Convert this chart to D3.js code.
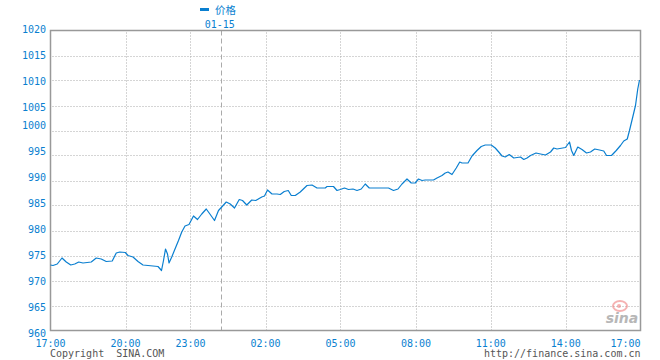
<!DOCTYPE html>
<html><head><meta charset="utf-8">
<script src="https://cdn.jsdelivr.net/npm/d3@7/dist/d3.min.js"></script>
<style>body{margin:0;background:#fff}svg{display:block}</style>
</head><body><svg id="c" width="660" height="360"></svg>
<script>
// ---- data ----
const seriesName = "价格";
const dayLabel = "01-15";
const dayBreak = 6.81; // session hours since 17:00 where date changes
const times = [0,0.10,0.27,0.46,0.63,0.81,0.97,1.13,1.30,1.63,1.83,2.03,2.23,2.47,2.63,2.77,2.99,3.10,3.30,3.50,3.70,3.90,4.30,4.44,4.52,4.60,4.68,4.74,4.85,4.98,5.12,5.25,5.38,5.54,5.72,5.88,6.05,6.23,6.39,6.56,6.72,6.85,7.03,7.19,7.36,7.55,7.68,7.85,8.05,8.21,8.45,8.56,8.68,8.86,9.06,9.19,9.35,9.51,9.63,9.79,9.99,10.26,10.46,10.66,10.99,11.06,11.32,11.46,11.59,11.76,11.92,12.10,12.26,12.43,12.59,12.75,13.52,13.72,13.90,14.06,14.26,14.43,14.59,14.72,14.86,14.99,15.32,15.46,15.66,15.79,15.90,16.06,16.23,16.37,16.46,16.70,16.86,17.06,17.23,17.39,17.63,17.79,17.93,18.06,18.19,18.35,18.53,18.80,18.93,19.06,19.20,19.42,19.60,19.80,20.00,20.13,20.26,20.60,20.76,20.84,20.93,21.09,21.26,21.44,21.60,21.77,21.96,22.13,22.24,22.44,22.63,22.80,22.93,23.07,23.16,23.29,23.40,23.49,23.56];
const prices = [973.1,973.0,973.3,974.5,973.7,973.1,973.3,973.7,973.5,973.7,974.5,974.3,973.8,973.9,975.5,975.7,975.6,975.0,974.7,973.8,973.1,973.0,972.8,972.0,974.0,976.3,975.3,973.5,974.7,976.3,978.0,979.7,980.9,981.2,982.9,982.2,983.3,984.3,983.2,982.0,984.0,984.7,985.7,985.3,984.5,986.2,986.0,985.1,986.1,986.0,986.7,986.9,988.1,987.3,987.3,987.2,987.8,988.0,987.0,987.0,987.7,989.0,989.1,988.5,988.5,988.8,988.8,988.0,988.2,988.5,988.2,988.3,988.0,988.3,989.3,988.5,988.5,988.0,988.3,989.3,990.3,989.5,989.5,990.3,990.0,990.1,990.1,990.5,991.0,991.5,991.7,991.2,992.5,993.7,993.5,993.5,994.9,996.0,996.8,997.1,997.1,996.5,995.7,994.9,994.7,995.2,994.5,994.7,994.2,994.5,995.0,995.5,995.3,995.1,995.7,996.5,996.3,996.6,997.7,996.0,995.0,996.7,996.2,995.5,995.7,996.3,996.1,995.9,995.0,995.0,996.0,997.0,997.9,998.3,1000.0,1002.7,1005.0,1008.3,1010.1];
const yTicks = [960,965,970,975,980,985,990,995,1000,1005,1010,1015,1020];
const xTickPos = [0,3,5.6,8.6,11.6,14.62,17.61,20.61,23.6];
const xTickLabels = ["17:00","20:00","23:00","02:00","05:00","08:00","11:00","14:00","17:00"];
const copyright = "Copyright  SINA.COM";
const siteUrl = "http://finance.sina.com.cn";

// ---- layout ----
const L = 50.5, R = 640.5, T = 30.5, B = 330.5;
const blue = "#0a7fd0", gridC = "#aaaaaa", axisC = "#999999";
const mono = "'DejaVu Sans Mono', 'Liberation Mono', monospace";

const svg = d3.select("#c");
const x = d3.scaleLinear().domain([0, 23.6]).range([L, R]);
const y = d3.scaleLinear().domain([960, 1020]).range([B, T]);
// label positions as drawn by the original (slightly offset from grid lines)
const yLabHi = d3.scaleLinear().domain([1020, 1005]).range([29.5, 107.5]);
const yLabLo = d3.scaleLinear().domain([1000, 960]).range([125.5, 333]);

// grid
const g = svg.append("g");
g.selectAll("line.h").data(yTicks.filter(v => v > 960 && v < 1020)).join("line")
  .attr("x1", L + 2).attr("x2", R).attr("y1", d => Math.round(y(d)) + 0.5).attr("y2", d => Math.round(y(d)) + 0.5)
  .attr("stroke", gridC).attr("stroke-dasharray", "1,2");
g.selectAll("line.v").data(xTickPos.slice(1, -1)).join("line")
  .attr("x1", d => Math.round(x(d)) + 0.5).attr("x2", d => Math.round(x(d)) + 0.5).attr("y1", T + 2).attr("y2", B)
  .attr("stroke", gridC).attr("stroke-dasharray", "1,2");
g.append("line").attr("x1", Math.round(x(dayBreak)) + 0.5).attr("x2", Math.round(x(dayBreak)) + 0.5)
  .attr("y1", T).attr("y2", B).attr("stroke", "#aaaaaa").attr("stroke-dasharray", "5,3");

// frame
svg.append("rect").attr("x", L).attr("y", T).attr("width", R - L).attr("height", B - T)
  .attr("fill", "none").attr("stroke", axisC).attr("stroke-width", 1.5);

// y labels
svg.append("g").selectAll("text").data(yTicks).join("text")
  .attr("x", 46).attr("y", d => (d >= 1005 ? yLabHi(d) : yLabLo(d)))
  .attr("dy", "0.35em").attr("text-anchor", "end")
  .attr("font-family", mono).attr("font-size", 10).attr("fill", blue).text(d => d);

// x labels
svg.append("g").selectAll("text").data(xTickPos).join("text")
  .attr("x", (d, i) => i === xTickPos.length - 1 ? R : x(d)).attr("y", 343).attr("dy", "0.35em")
  .attr("text-anchor", (d, i) => i === xTickPos.length - 1 ? "end" : "middle")
  .attr("font-family", mono).attr("font-size", 10).attr("fill", blue).text((d, i) => xTickLabels[i]);

// footer
svg.append("text").attr("x", 50).attr("y", 353).attr("dy", "0.35em").attr("font-family", mono)
  .attr("font-size", 10).attr("fill", "#555").attr("xml:space", "preserve").style("white-space", "pre").text(copyright);
svg.append("text").attr("x", R).attr("y", 353).attr("dy", "0.35em").attr("text-anchor", "end").attr("font-family", mono)
  .attr("font-size", 10).attr("fill", "#555").text(siteUrl);

// legend
svg.append("rect").attr("x", 200).attr("y", 8).attr("width", 9).attr("height", 3).attr("fill", blue);
svg.append("text").attr("x", 215).attr("y", 10).attr("dy", "0.35em").attr("font-family", "'Noto Sans CJK SC', sans-serif")
  .attr("font-size", 10.5).attr("fill", blue).text(seriesName);
svg.append("text").attr("x", x(dayBreak) - 1).attr("y", 24).attr("dy", "0.35em").attr("text-anchor", "middle")
  .attr("font-family", mono).attr("font-size", 10).attr("fill", blue).text(dayLabel);

// watermark
const wm = svg.append("g").attr("opacity", 0.6);
wm.append("ellipse").attr("cx", 620).attr("cy", 306).attr("rx", 7).attr("ry", 5).attr("fill", "none").attr("stroke", "#f08080").attr("stroke-width", 2);
wm.append("circle").attr("cx", 619).attr("cy", 306).attr("r", 2).attr("fill", "#f08080");
wm.append("text").attr("x", 622).attr("y", 318).attr("dy", "0.35em").attr("text-anchor", "middle")
  .attr("font-family", "'DejaVu Sans', sans-serif").attr("font-style", "italic").attr("font-weight", "bold")
  .attr("font-size", 14).attr("fill", "#888").text("sina");

// price line
const line = d3.line().x((d, i) => x(times[i])).y(d => y(d));
svg.append("path").datum(prices).attr("d", line).attr("fill", "none")
  .attr("stroke", blue).attr("stroke-width", 1.2).attr("stroke-linejoin", "round");
</script></body></html>
